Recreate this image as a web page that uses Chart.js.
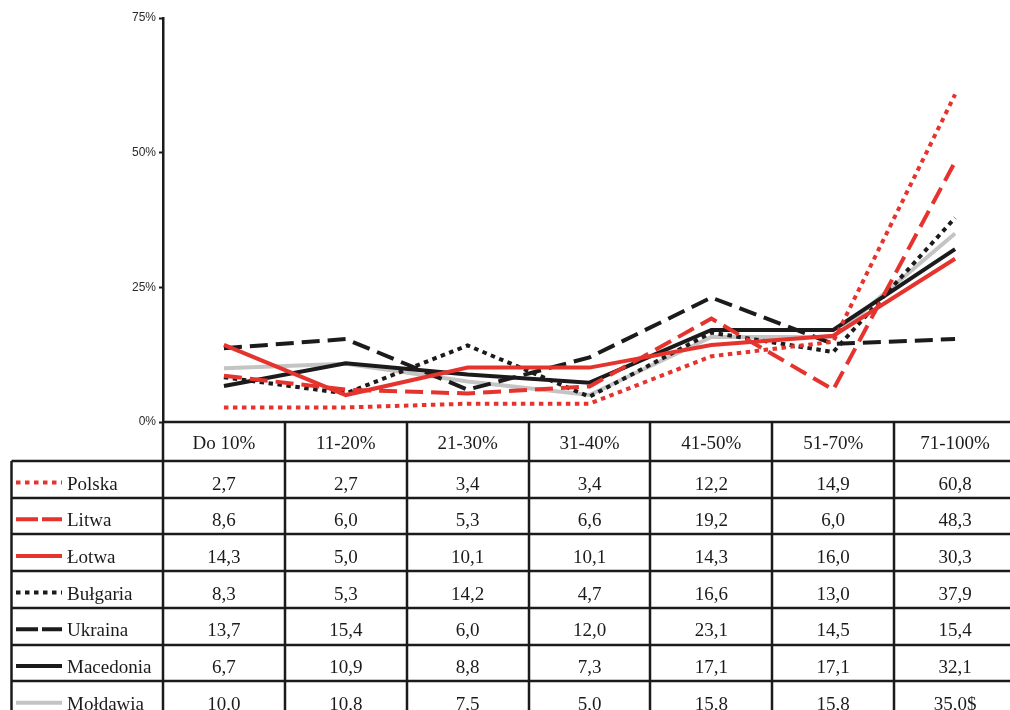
<!DOCTYPE html>
<html>
<head>
<meta charset="utf-8">
<script src="https://cdn.jsdelivr.net/npm/chart.js@4.4.0/dist/chart.umd.min.js"></script>
<style>
    html, body { margin: 0; padding: 0; background: #fff; overflow: hidden; }
    #box { width: 1010px; height: 710px; overflow: hidden; }
    canvas { display: block; }
</style>
</head>
<body>
<div id="box"><canvas id="wykres" width="1016" height="720"></canvas></div>
<script>
var przedzialy = ['Do 10%', '11-20%', '21-30%', '31-40%', '41-50%', '51-70%', '71-100%'];
var kraje = ['Polska', 'Litwa', 'Łotwa', 'Bułgaria', 'Ukraina', 'Macedonia', 'Mołdawia'];

var polska = [2.7, 2.7, 3.4, 3.4, 12.2, 14.9, 60.8];
var litwa = [8.6, 6.0, 5.3, 6.6, 19.2, 6.0, 48.3];
var lotwa = [14.3, 5.0, 10.1, 10.1, 14.3, 16.0, 30.3];
var bulgaria = [8.3, 5.3, 14.2, 4.7, 16.6, 13.0, 37.9];
var ukraina = [13.7, 15.4, 6.0, 12.0, 23.1, 14.5, 15.4];
var macedonia = [6.7, 10.9, 8.8, 7.3, 17.1, 17.1, 32.1];
var moldawia = [10.0, 10.8, 7.5, 5.0, 15.8, 15.8, 35.0];

var osY = [0, 25, 50, 75];

// dopisek z oryginalnej tabeli (wiersz-kolumna)
var dopiski = { '6-6': '$' };

var serie = [polska, litwa, lotwa, bulgaria, ukraina, macedonia, moldawia];

var czerwony = '#e5332d';
var czarny = '#1c1a1b';
var szary = '#c4c4c4';
var kolory = [czerwony, czerwony, czerwony, czarny, czarny, czarny, szary];
var kreski = [[4.5, 4.5], [18, 8], [], [4.5, 4.5], [18, 8], [], []];
var kreskiLegendy = [[4.5, 4.5], [22, 4], [], [4.5, 4.5], [22, 4], [], []];

var lewaTabeli = 11.5;
var gornaWierszy = 461;
var wysWiersza = 36.7;

function formatuj(v) {
    return v.toFixed(1).replace('.', ',');
}

var tabela = {
    id: 'tabela',
    afterDraw: function (chart) {
        var ctx = chart.ctx;
        var area = chart.chartArea;
        var x = chart.scales.x;
        var szer = (area.right - area.left) / przedzialy.length;
        var dol = chart.height;

        ctx.save();
        ctx.strokeStyle = czarny;
        ctx.lineWidth = 2.5;
        ctx.setLineDash([]);

        // linia 0% / gora naglowka
        ctx.beginPath();
        ctx.moveTo(area.left, area.bottom);
        ctx.lineTo(chart.width, area.bottom);
        ctx.stroke();

        // pionowe linie kolumn
        for (var i = 0; i <= przedzialy.length; i++) {
            var px = Math.round(area.left + i * szer);
            ctx.beginPath();
            ctx.moveTo(px, area.bottom);
            ctx.lineTo(px, dol);
            ctx.stroke();
        }
        ctx.beginPath();
        ctx.moveTo(lewaTabeli, gornaWierszy);
        ctx.lineTo(lewaTabeli, dol);
        ctx.stroke();

        // poziome linie wierszy
        for (var r = 0; r <= kraje.length; r++) {
            var py = Math.round(gornaWierszy + r * wysWiersza);
            ctx.beginPath();
            ctx.moveTo(lewaTabeli, py);
            ctx.lineTo(chart.width, py);
            ctx.stroke();
        }

        ctx.fillStyle = czarny;
        ctx.font = '19px "Liberation Serif", serif';
        ctx.textBaseline = 'alphabetic';

        // naglowek
        ctx.textAlign = 'center';
        for (var k = 0; k < przedzialy.length; k++) {
            ctx.fillText(przedzialy[k], x.getPixelForValue(k), area.bottom + 26.5);
        }

        // wiersze z danymi
        for (var w = 0; w < kraje.length; w++) {
            var gora = gornaWierszy + w * wysWiersza;

            ctx.save();
            ctx.strokeStyle = kolory[w];
            ctx.lineWidth = 4;
            ctx.lineCap = 'butt';
            ctx.setLineDash(kreskiLegendy[w]);
            ctx.beginPath();
            ctx.moveTo(16, gora + 21.5);
            ctx.lineTo(62, gora + 21.5);
            ctx.stroke();
            ctx.restore();

            ctx.textAlign = 'left';
            ctx.fillText(kraje[w], 67, gora + 28.5);

            ctx.textAlign = 'center';
            for (var c = 0; c < przedzialy.length; c++) {
                var tekst = formatuj(serie[w][c]) + (dopiski[w + '-' + c] || '');
                ctx.fillText(tekst, x.getPixelForValue(c), gora + 28.5);
            }
        }
        ctx.restore();
    }
};

var datasets = [];
for (var i = 0; i < kraje.length; i++) {
    datasets.push({
        label: kraje[i],
        data: serie[i],
        borderColor: kolory[i],
        backgroundColor: kolory[i],
        borderWidth: 4,
        borderDash: kreski[i],
        borderCapStyle: 'butt',
        borderJoinStyle: 'miter',
        pointRadius: 0,
        tension: 0,
        fill: false
    });
}

var context = document.getElementById('wykres').getContext('2d');
var wykres = new Chart(context, {
    type: 'line',
    data: {
        labels: przedzialy,
        datasets: datasets
    },
    options: {
        responsive: false,
        animation: false,
        devicePixelRatio: 1,
        layout: {
            padding: { left: 0, right: 0, top: 18, bottom: 298 }
        },
        plugins: {
            legend: { display: false },
            tooltip: { enabled: false },
            title: { display: false }
        },
        scales: {
            x: {
                display: false,
                offset: true
            },
            y: {
                min: 0,
                max: 75,
                afterBuildTicks: function (scale) {
                    scale.ticks = osY.map(function (v) { return { value: v }; });
                },
                afterFit: function (scale) {
                    scale.width = 163;
                },
                border: { display: true, color: czarny, width: 2.5 },
                grid: {
                    drawOnChartArea: false,
                    drawTicks: true,
                    tickLength: 4,
                    tickWidth: 2,
                    tickColor: czarny
                },
                ticks: {
                    padding: 3,
                    color: '#2a2a2a',
                    font: { family: '"Liberation Sans", Arial, sans-serif', size: 12 },
                    callback: function (v) { return v + '%'; }
                }
            }
        }
    },
    plugins: [tabela]
});
</script>
</body>
</html>
